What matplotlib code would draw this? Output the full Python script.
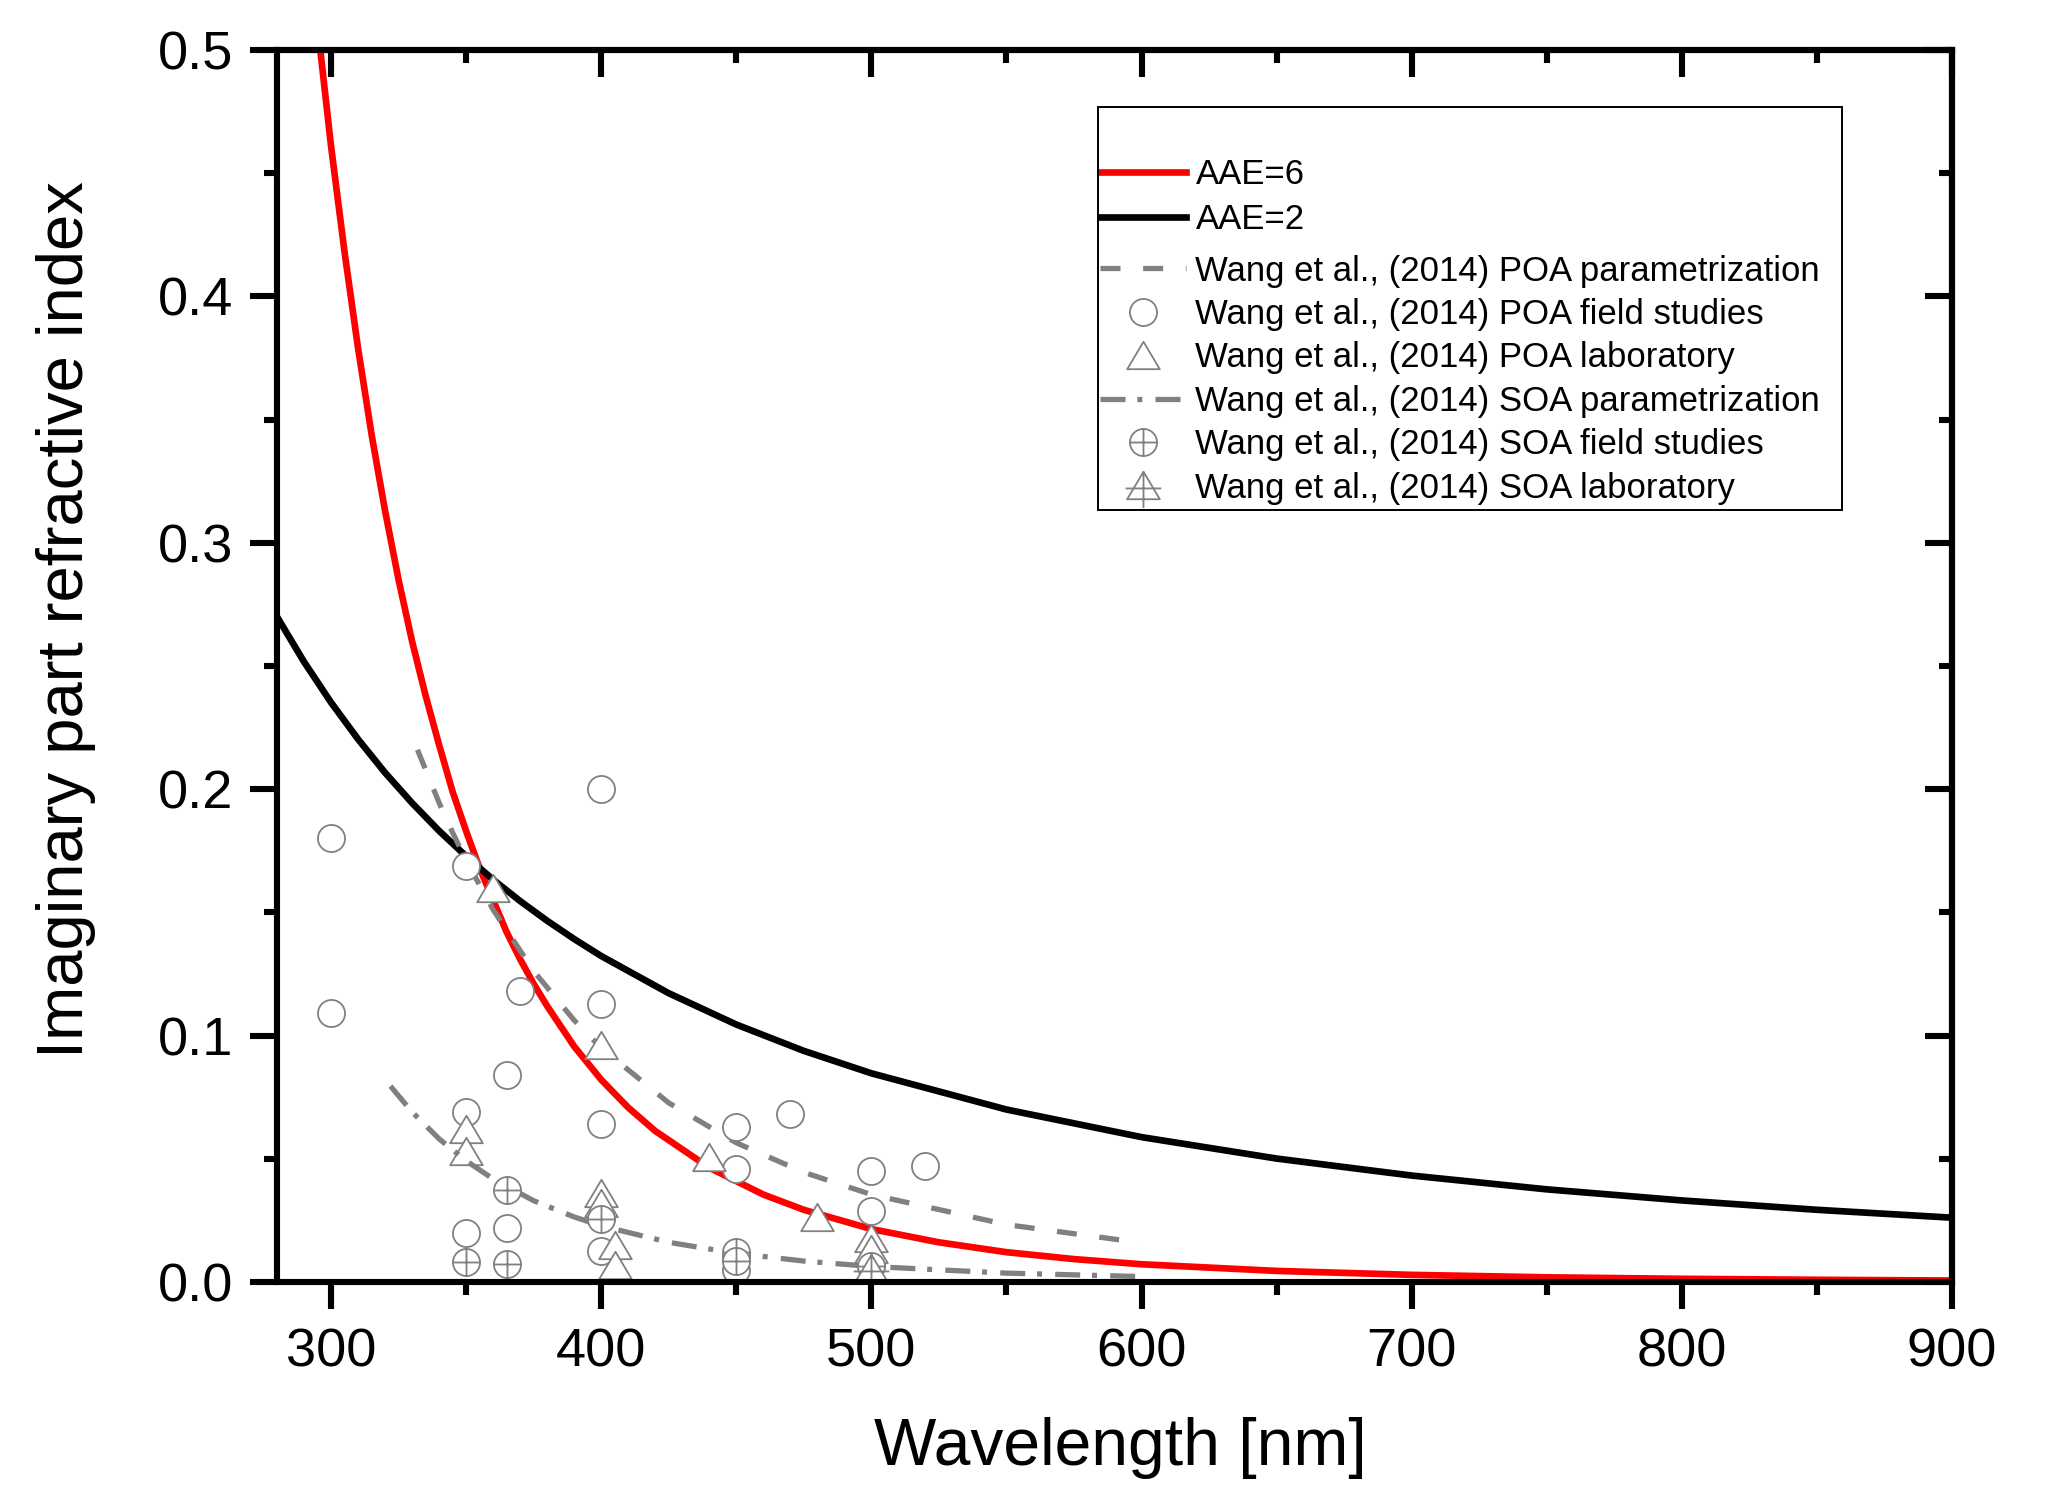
import matplotlib
matplotlib.use("Agg")
import matplotlib.pyplot as plt
from matplotlib.path import Path
from matplotlib.patches import Rectangle
from matplotlib.ticker import MultipleLocator, FormatStrFormatter

plt.rcParams['font.family'] = ['Liberation Sans', 'DejaVu Sans']
plt.rcParams['lines.scale_dashes'] = False

GRAY = '#808080'

# --- curves (wavelength nm, imaginary part k) ---
wl_aae6 = [290, 295, 300, 305, 310, 315, 320, 325, 330, 335, 340, 345, 350, 355,
           360, 365, 370, 375, 380, 390, 400, 410, 420, 440, 460, 475, 500, 525,
           550, 575, 600, 650, 700, 750, 800, 850, 900]
k_aae6 = [0.565, 0.510, 0.461, 0.418, 0.379, 0.344, 0.313, 0.285, 0.260, 0.238,
          0.218, 0.199, 0.183, 0.168, 0.155, 0.142, 0.131, 0.121, 0.112, 0.0956,
          0.0821, 0.0708, 0.0613, 0.0464, 0.0355, 0.0293, 0.0215, 0.0161, 0.0121,
          0.0093, 0.0072, 0.0045, 0.0029, 0.0019, 0.0013, 0.0009, 0.0006]

wl_aae2 = [280, 290, 300, 310, 320, 330, 340, 350, 360, 370, 380, 390, 400, 425,
           450, 475, 500, 550, 600, 650, 700, 750, 800, 850, 900]
k_aae2 = [0.270, 0.2517, 0.2352, 0.2203, 0.2067, 0.1944, 0.1831, 0.1728, 0.1633,
          0.1546, 0.1466, 0.1392, 0.1323, 0.1172, 0.1045, 0.0938, 0.0847, 0.0700,
          0.0588, 0.0501, 0.0432, 0.0376, 0.0331, 0.0293, 0.0261]

wl_poa_par = [332, 340, 345, 350, 360, 375, 390, 400, 425, 450, 475, 500, 550, 600]
k_poa_par = [0.216, 0.1945, 0.1824, 0.1711, 0.1511, 0.1262, 0.1062, 0.0950, 0.0727,
             0.0565, 0.0445, 0.0355, 0.0233, 0.0159]

wl_soa_par = [322, 330, 340, 350, 360, 375, 390, 400, 425, 450, 475, 500, 550, 600]
k_soa_par = [0.0795, 0.0690, 0.0581, 0.0492, 0.0418, 0.0330, 0.0264, 0.0228, 0.0161,
             0.0116, 0.0085, 0.0063, 0.0036, 0.0022]

# --- data points ---
wl_poa_field = [300, 300, 350, 400, 370, 400, 365, 350, 400, 450, 470, 450, 500, 520,
                500, 350, 365, 400, 400, 450, 450, 500]
k_poa_field = [0.180, 0.109, 0.169, 0.200, 0.118, 0.113, 0.084, 0.069, 0.064, 0.063,
               0.068, 0.046, 0.045, 0.047, 0.029, 0.020, 0.022, 0.0265, 0.0125, 0.010,
               0.005, 0.007]

wl_poa_lab = [360, 400, 350, 350, 440, 480, 400, 400, 405, 405, 500, 500]
k_poa_lab = [0.160, 0.096, 0.062, 0.053, 0.0506, 0.0265, 0.036, 0.032, 0.015, 0.007,
             0.018, 0.0135]

wl_soa_field = [350, 365, 365, 400, 450, 450, 500]
k_soa_field = [0.008, 0.0075, 0.0375, 0.0255, 0.012, 0.0085, 0.0065]

wl_soa_lab = [500]
k_soa_lab = [0.0055]

labels = ['AAE=6', 'AAE=2',
          'Wang et al., (2014) POA parametrization',
          'Wang et al., (2014) POA field studies',
          'Wang et al., (2014) POA laboratory',
          'Wang et al., (2014) SOA parametrization',
          'Wang et al., (2014) SOA field studies',
          'Wang et al., (2014) SOA laboratory']


# custom marker shapes
M, L, C = Path.MOVETO, Path.LINETO, Path.CLOSEPOLY
tri = Path([(0, 0.42), (-0.5, -0.42), (0.5, -0.42), (0, 0.42)], [M, L, L, C])
circ = Path.unit_circle()
circ = Path(circ.vertices * 0.5, circ.codes)
plus = Path([(-0.5, 0), (0.5, 0), (0, -0.5), (0, 0.5)], [M, L, M, L])
crossed_circle = Path.make_compound_path(circ, plus)
tri_cross = Path([(0, 0.42), (0, -0.69), (-0.545, -0.09), (0.545, -0.09)], [M, L, M, L])
crossed_tri = Path.make_compound_path(tri, tri_cross)

fig = plt.figure(figsize=(20.67, 15), dpi=100)
ax = fig.add_axes([277 / 2067, 1 - 1282 / 1500, (1952 - 277) / 2067, (1282 - 50) / 1500])

mk = dict(linestyle='none', markerfacecolor='white', markeredgecolor=GRAY, markeredgewidth=1.3)

h1, = ax.plot(wl_aae6, k_aae6, color='#ff0000', lw=4.8, label=labels[0])
h2, = ax.plot(wl_aae2, k_aae2, color='black', lw=4.8, label=labels[1])
h3, = ax.plot(wl_poa_par, k_poa_par, color=GRAY, lw=3.8, dashes=(14.4, 16.3), label=labels[2])
h4, = ax.plot(wl_poa_field, k_poa_field, marker='o', markersize=19.5, label=labels[3], **mk)
h5, = ax.plot(wl_poa_lab, k_poa_lab, marker=tri, markersize=23.5, label=labels[4], **mk)
h6, = ax.plot(wl_soa_par, k_soa_par, color=GRAY, lw=3.8, dashes=(18, 8.5, 3.6, 9.5), label=labels[5])
h7, = ax.plot(wl_soa_field, k_soa_field, marker=crossed_circle, markersize=19.5, label=labels[6], **mk)
h8, = ax.plot(wl_soa_lab, k_soa_lab, marker=crossed_tri, markersize=32.5, label=labels[7], **mk)

ax.set_xlim(280, 900)
ax.set_ylim(0, 0.5)
ax.xaxis.set_major_locator(MultipleLocator(100))
ax.xaxis.set_minor_locator(MultipleLocator(50))
ax.yaxis.set_major_locator(MultipleLocator(0.1))
ax.yaxis.set_minor_locator(MultipleLocator(0.05))
ax.yaxis.set_major_formatter(FormatStrFormatter('%.1f'))

for s in ax.spines.values():
    s.set_linewidth(4.4)
ax.tick_params(which='both', direction='out', width=4.4, top=False, right=False)
ax.tick_params(which='major', length=19.5)
ax.tick_params(which='minor', length=9.5)
ax.tick_params(axis='x', which='major', labelsize=39, pad=13)
ax.tick_params(axis='y', which='major', labelsize=39, pad=12)

# inward ticks on the top and right sides
top = ax.secondary_xaxis('top')
top.xaxis.set_major_locator(MultipleLocator(100))
top.xaxis.set_minor_locator(MultipleLocator(50))
right = ax.secondary_yaxis('right')
right.yaxis.set_major_locator(MultipleLocator(0.1))
right.yaxis.set_minor_locator(MultipleLocator(0.05))
for sec in (top, right):
    for s in sec.spines.values():
        s.set_linewidth(4.4)
    sec.tick_params(which='both', direction='in', width=4.4,
                    labeltop=False, labelright=False, labelbottom=False, labelleft=False)
    sec.tick_params(which='major', length=19.5)
    sec.tick_params(which='minor', length=9.5)

fig.text(1120 / 2067, 1 - 1465 / 1500, 'Wavelength [nm]', fontsize=47.5,
         ha='center', va='baseline')
fig.text(83 / 2067, 1 - 619.5 / 1500, 'Imaginary part refractive index', fontsize=47,
         rotation=90, rotation_mode='anchor', ha='center', va='baseline')

leg_opts = dict(loc='upper left', bbox_transform=fig.transFigure, borderaxespad=0,
                fontsize=25, frameon=False, borderpad=0, handlelength=2.49,
                handletextpad=0.26, numpoints=1)
# the two AAE lines and the Wang et al. entries sit in two blocks
leg1 = ax.legend([h1, h2], labels[:2], bbox_to_anchor=(1100 / 2067, 1 - 158 / 1500),
                 labelspacing=0.354, **leg_opts)
ax.add_artist(leg1)
leg2 = ax.legend([h3, h4, h5, h6, h7, h8], labels[2:],
                 bbox_to_anchor=(1100 / 2067, 1 - 254.5 / 1500),
                 labelspacing=0.30, **leg_opts)

# legend box
fig.add_artist(Rectangle((1098 / 2067, 1 - 510 / 1500), (1842 - 1098) / 2067,
                         (510 - 107) / 1500, transform=fig.transFigure,
                         fill=False, lw=1.4, ec='black'))

fig.savefig('out.png', dpi=100)
